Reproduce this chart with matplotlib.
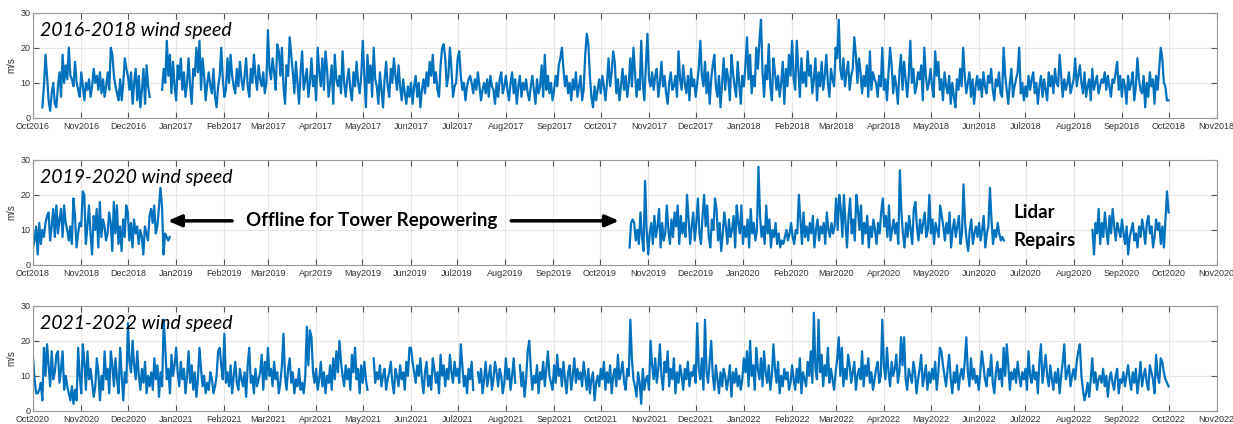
import numpy as np
import pandas as pd
import matplotlib
matplotlib.use("Agg")
import matplotlib.pyplot as plt
import matplotlib.dates as mdates

nan = np.nan

# ---- 2016-2018 daily mean wind speed (m/s) ----
p1_a_start = "2016-10-07"
p1_a = [3, 9, 18, 12, 5, 2, 7, 10, 4, 3, 9, 13, 6, 18, 10, 15, 11, 20, 12, 11, 9, 16, 10, 8, 6,
        13, 9, 5, 10, 8, 11, 6, 9, 14, 10, 12, 8, 13, 7, 11, 6, 9, 13, 8, 20, 18, 12, 9, 7, 5, 11, 5, 10, 17, 14,
        12, 8, 13, 4, 10, 14, 5, 12, 3, 8, 14, 4, 15, 9, 6]
p1_b_start = "2016-12-23"
p1_b = [8, 14, 10, 22, 12, 18, 7, 16, 9,
        5, 15, 11, 17, 8, 13, 6, 10, 17, 9, 4, 14, 12, 20, 13, 22, 8, 17, 12, 5, 10, 13, 9, 7, 14, 6, 3, 9, 12, 20, 11,
        6, 8, 17, 10, 18, 12, 9, 7, 14, 9, 16, 11, 8, 12, 17, 9, 6, 14, 10, 18, 12, 8, 15, 11, 9, 13, 7, 10,
        25, 14, 11, 17, 13, 8, 21, 19, 12, 20, 9, 4, 15, 12, 23, 18, 13, 7, 16, 10, 4, 13, 19, 8, 11, 14, 6, 10, 17, 9, 12,
        5, 20, 13, 9, 17, 8, 19, 14, 6, 10, 15, 4, 18, 11, 9, 12, 7, 19, 10, 6, 11, 14, 8, 5, 13, 9, 16, 10, 7, 12,
        22, 12, 3, 18, 10, 15, 6, 20, 11, 9, 4, 13, 8, 3, 11, 16, 9, 6, 14, 10, 17, 12, 8, 15, 9, 5, 11, 7, 4, 9, 6,
        10, 4, 9, 12, 6, 10, 3, 8, 11, 7, 13, 9, 16, 12, 18, 10, 13, 8, 6, 15, 20, 21, 17, 9, 12, 20, 14, 6, 9, 10,
        17, 19, 12, 8, 10, 5, 9, 11, 12, 10, 7, 11, 8, 13, 9, 5, 8, 10, 7, 11, 6, 12, 9, 8, 4, 10, 6, 11, 13, 7, 9,
        12, 8, 5, 10, 13, 7, 11, 4, 9, 12, 6, 10, 8, 11, 7, 5, 9, 12, 8, 4, 11, 7, 9, 15, 6, 18, 8, 12, 7, 10, 5,
        8, 12, 9, 15, 17, 20, 14, 9, 12, 7, 10, 5, 11, 8, 13, 6, 9, 12, 5, 8, 18, 24, 21, 12, 6, 3, 9, 5, 8, 11,
        7, 12, 9, 5, 10, 17, 9, 13, 19, 16, 7, 11, 5, 9, 14, 8, 12, 6, 10, 17, 9, 20, 13, 6, 11, 8, 22, 10, 5, 15, 24,
        11, 9, 13, 8, 12, 14, 6, 10, 16, 9, 12, 7, 4, 10, 13, 8, 9, 12, 6, 19, 11, 8, 15, 10, 7, 12, 5, 14, 9, 11,
        6, 10, 14, 22, 12, 9, 16, 7, 13, 4, 11, 15, 18, 9, 6, 12, 3, 10, 17, 8, 14, 11, 5, 18, 13, 9, 6, 16, 10, 4, 12,
        9, 15, 23, 11, 18, 7, 12, 9, 20, 14, 22, 28, 13, 6, 15, 11, 21, 9, 5, 17, 13, 8, 12, 6, 10, 16, 4, 14, 9, 18, 12,
        22, 11, 8, 22, 14, 6, 17, 10, 13, 9, 19, 12, 15, 7, 11, 17, 5, 13, 9, 16, 8, 12, 18, 10, 6, 14, 11, 9,
        20, 17, 28, 14, 11, 17, 9, 13, 16, 8, 12, 14, 23, 18, 10, 17, 13, 7, 12, 9, 15, 6, 19, 8, 13, 11, 10, 6, 12, 9, 20,
        8, 11, 5, 13, 20, 15, 7, 12, 9, 4, 13, 18, 8, 16, 11, 6, 12, 22, 10, 14, 7, 9, 13, 11, 15, 5, 20, 12, 8, 10,
        14, 9, 6, 19, 12, 16, 8, 11, 5, 13, 9, 7, 12, 4, 10, 6, 3, 11, 8, 14, 9, 20, 12, 7, 10, 13, 6, 11, 4, 9, 12,
        8, 11, 6, 13, 9, 7, 12, 10, 14, 8, 5, 11, 9, 13, 7, 6, 20, 12, 8, 4, 10, 14, 6, 9, 11, 13, 20, 7, 10, 5,
        9, 6, 12, 8, 11, 13, 7, 10, 4, 9, 12, 6, 11, 8, 5, 13, 9, 12, 7, 14, 10, 9, 18, 12, 6, 11, 8, 10, 13, 7, 9,
        11, 17, 9, 12, 15, 10, 7, 13, 6, 9, 11, 5, 14, 8, 10, 12, 7, 9, 11, 10, 13, 8, 12, 9, 6, 11, 10, 13, 16, 8, 12,
        6, 11, 9, 4, 12, 8, 10, 13, 5, 9, 17, 11, 8, 7, 12, 3, 10, 6, 13, 9, 11, 4, 12, 8, 14, 20, 17, 10, 9, 5, 5]

# ---- 2019-2020 ----
p2_a_start = "2018-10-01"
p2_a = [5, 7, 11, 3, 12, 6, 10, 8, 12, 14, 15, 7, 11, 16, 8, 17, 9, 13, 16, 8, 17, 12, 10, 7, 11, 6, 19, 14, 5, 9, 12,
        11, 21, 20, 6, 11, 17, 9, 3, 14, 10, 16, 5, 18, 8, 13, 11, 7, 9, 15, 12, 4, 18, 9, 17, 6, 11, 4, 13, 8, 17,
        15, 7, 12, 5, 13, 9, 11, 6, 10, 8, 3, 11, 9, 7, 14, 16, 12, 17, 9, 11, 16, 22, 17, 3, 9, 8, 7, 8]
p2_b_start = "2019-10-20"
p2_b = [5, 12, 13, 12, 7, 10, 6, 15, 8, 4, 24, 10,
        3, 9, 12, 6, 14, 8, 11, 16, 5, 12, 7, 9, 17, 10, 6, 13, 8, 15, 11, 17, 6, 14, 9, 12, 8, 20, 13, 6, 11, 15,
        7, 12, 19, 9, 6, 14, 20, 11, 17, 8, 5, 13, 10, 19, 16, 7, 12, 4, 9, 15, 11, 6, 13, 8, 10, 14, 5, 17, 12, 9, 17,
        6, 11, 8, 13, 5, 16, 9, 12, 7, 10, 28, 14, 8, 11, 6, 17, 9, 13, 5, 10, 8, 12, 6, 9, 5, 7, 6, 8, 10, 7, 9,
        12, 8, 6, 10, 9, 20, 13, 6, 15, 8, 11, 7, 12, 9, 14, 5, 10, 13, 7, 11, 9, 12, 6, 15, 10, 8, 12, 9, 11,
        19, 10, 20, 16, 8, 20, 12, 5, 14, 19, 9, 13, 7, 20, 16, 10, 17, 6, 12, 9, 14, 5, 11, 8, 13, 10, 6, 12, 9, 15, 19,
        11, 14, 8, 17, 7, 10, 13, 9, 12, 6, 27, 15, 9, 5, 12, 8, 14, 10, 6, 16, 18, 11, 7, 13, 9, 12, 15, 8, 10, 20,
        9, 13, 6, 12, 10, 8, 17, 14, 11, 7, 12, 9, 15, 5, 10, 13, 8, 11, 14, 6, 9, 23, 12, 7, 4, 10, 13, 6, 9, 11, 8,
        12, 7, 10, 14, 5, 9, 11, 22, 13, 6, 10, 8, 12, 9, 7, 8, 7]
p2_c_start = "2020-08-13"
p2_c = [10, 3, 12, 9, 16, 6, 12, 8, 15, 10, 6, 14, 9, 16, 11, 7, 12, 10, 8, 13, 9, 6, 11, 3, 8, 10, 12, 7, 9, 5,
        11, 8, 13, 10, 6, 12, 14, 9, 11, 5, 8, 13, 10, 12, 6, 11, 5, 13, 21, 15]

# ---- 2021-2022 ----
p3_start = "2020-10-01"
p3 = [15, 9, 5, 5, 6, 8, 3, 18, 10, 19, 13, 7, 17, 9, 11, 16, 17, 8, 12, 17, 6, 10, 7, 5, 3, 7, 2, 6, 3, 18, 10,
      5, 19, 14, 6, 17, 9, 12, 8, 4, 7, 15, 11, 3, 10, 6, 17, 9, 12, 5, 17, 13, 7, 15, 9, 5, 18, 10, 3, 11, 8,
      25, 14, 11, 20, 13, 9, 17, 10, 6, 12, 8, 14, 5, 10, 7, 11, 6, 15, 9, 13, 4, 11, 7, 26, 18, 9, 12, 5, 16, 10, 13,
      18, 11, 7, 14, 9, 12, 5, 10, 17, 8, 13, 6, 11, 4, 9, 18, 12, 7, 10, 5, 8, 6, 11, 9, 5, 7, 10, 17, 18, 13, 9,
      22, 8, 11, 7, 13, 5, 10, 14, 8, 6, 12, 9, 7, 11, 4, 13, 18, 8, 10, 5, 12, 7, 9, 11, 16, 6, 14, 9,
      18, 10, 12, 7, 14, 9, 11, 5, 8, 13, 22, 10, 6, 12, 15, 8, 11, 5, 9, 7, 12, 6, 8, 5, 10, 24, 13, 23, 21, 11, 8,
      12, 6, 9, 14, 7, 11, 5, 10, 8, 13, 6, 15, 9, 17, 11, 20, 14, 10, 7, 13, 9, 12, 6, 16, 11, 18, 9, 12, 5, 13,
      8, 14, 9, 6, nan, nan, nan, 15, 8, 11, 9, 13, 7, 10, 12, 6, 9, 11, 14, 8, 5, 12, 10, 7, 13, 9, 11, 6, 14, 10, 18,
      18, 14, 11, 8, 13, 10, 15, 9, 5, 11, 14, 7, 10, 6, 15, 12, 8, 11, 5, 16, 10, 13, 7, 12, 9, 16, 11, 8, 14, 10,
      12, 8, 19, 13, 7, 10, 5, 12, 9, 14, 6, nan, nan, 11, 8, 12, 5, 9, 14, 7, 10, 13, 6, 9, 14, 11, 7, 12, 10, 5, 8,
      15, 9, 12, 6, 10, 15, 8, nan, nan, 13, 7, 11, 4, 9, 17, 20, 12, 6, 10, 8, 13, 5, 11, 9, 14, 7, 12, 17, 10, 8, 6,
      13, 8, 16, 10, 12, 7, 14, 9, 5, 11, 13, 6, 10, 15, 8, 12, 9, 11, 7, 14, 10, 6, 12, 5, 9, 11, 3, 8, 10, 7,
      12, 9, 14, 6, 11, 8, 13, 5, 10, 12, 7, 16, 9, 11, 14, 8, 6, 12, 10, 26, 15, 9, 7, 4, 11, 8, 2, 12, 6, 9, 10,
      6, 20, 13, 9, 15, 8, 12, 19, 10, 6, 14, 11, 17, 7, 12, 9, 15, 5, 11, 8, 13, 10, 6, 12, 9, 14, 7, 11, 10, 13,
      8, 25, 12, 9, 15, 6, 26, 11, 8, 14, 20, 10, 6, 13, 9, 5, 11, 7, 12, 10, 6, 9, 13, 4, 11, 8, 12, 7, 10, 6, 9,
      15, 11, 17, 7, 20, 10, 13, 6, 18, 12, 9, 15, 7, 17, 11, 8, 13, 6, 10, 19, 12, 8, 14, 5, 10, 7, 12, 9, 11, 6, 8,
      13, 9, 6, 12, 8, 15, 5, 11, 9, 7, 14, 10, 17, 8, 28, 12, 9, 26, 11, 16, 7, 13, 10, 18, 8, 12, 9, 6,
      11, 15, 21, 10, 18, 7, 12, 9, 16, 13, 8, 11, 14, 6, 10, 12, 9, 17, 7, 13, 10, 15, 8, 11, 6, 9, 12, 14, 8, 10, 26,
      13, 9, 18, 11, 7, 14, 10, 12, 16, 8, 11, 21, 13, 21, 9, 6, 12, 10, 8, 14, 11, 5, 9, 12, 16, 7, 10, 13, 6, 11,
      8, 12, 9, 14, 6, 11, 18, 17, 13, 10, 7, 12, 16, 9, 5, 11, 8, 13, 6, 10, 12, 9, 14, 21, 11, 7, 15, 9, 12, 8, 10,
      6, 11, 17, 13, 9, 7, 12, 10, 16, 8, 5, 11, 14, 9, 12, 7, 18, 10, 19, 13, 6, 11, 9, 12, 8, 14, 10, 7, 11, 9,
      12, 6, 17, 10, 8, 13, 9, 11, 5, 14, 19, 8, 12, 16, 10, 7, 13, 9, 6, 11, 8, 12, 5, 10, 14, 19, 9, 11, 13, 7, 10,
      12, 9, 14, 17, 19, 10, 6, 3, 5, 8, 4, 9, 15, 8, 11, 6, 9, 10, 8, 12, 7, 10, 4, 9, 11, 8, 6, 10, 12, 5, 9,
      8, 11, 7, 10, 13, 9, 6, 11, 8, 12, 5, 9, 14, 7, 10, 12, 8, 6, 13, 11, 9, 5, 16, 10, 8, 15, 14, 11, 9, 8, 7]

titles = ["2016-2018 wind speed", "2019-2020 wind speed", "2021-2022 wind speed"]
xlims = [("2016-10-01", "2018-11-01"), ("2018-10-01", "2020-11-01"), ("2020-10-01", "2022-11-01")]
panels = [[(p1_a_start, p1_a), (p1_b_start, p1_b)],
          [(p2_a_start, p2_a), (p2_b_start, p2_b), (p2_c_start, p2_c)],
          [(p3_start, p3)]]

blue = "#0072BD"
frame = "#9a9a9a"
tick_font = "Liberation Sans"
note_font = ["Lato", "DejaVu Sans"]

fig = plt.figure(figsize=(12.33, 4.24), dpi=100)
bottoms = [0.722, 0.375, 0.031]
axes = []
for k in range(3):
    ax = fig.add_axes([0.0268, bottoms[k], 0.960, 0.248])
    for start, vals in panels[k]:
        dates = pd.date_range(start, periods=len(vals), freq="D")
        ax.plot(dates, vals, color=blue, lw=1.6)
    ax.set_xlim(pd.Timestamp(xlims[k][0]), pd.Timestamp(xlims[k][1]))
    ax.set_ylim(0, 30)
    ax.set_yticks([0, 10, 20, 30])
    ax.xaxis.set_major_locator(mdates.MonthLocator())
    ax.xaxis.set_major_formatter(mdates.DateFormatter("%b%Y"))
    ax.grid(True, color="#e6e6e6", lw=0.8)
    ax.set_axisbelow(True)
    for s in ax.spines.values():
        s.set_color(frame)
        s.set_linewidth(0.8)
    ax.tick_params(direction="in", top=True, right=True, length=4, width=0.8,
                   color="#555555", labelsize=6.5, labelcolor="#333333", pad=2)
    ax.tick_params(axis="x", pad=3)
    for lab in ax.get_xticklabels() + ax.get_yticklabels():
        lab.set_family(tick_font)
    ax.set_ylabel("m/s", fontsize=7, family=tick_font, color="#333333", labelpad=3)
    ax.text(0.006, 0.83, titles[k], transform=ax.transAxes, fontsize=14,
            style="italic", family=note_font, va="center", ha="left")
    axes.append(ax)

ax2 = axes[1]
ax2.text(pd.Timestamp("2019-05-07"), 12.6, "Offline for Tower Repowering", fontsize=13.5,
         weight="bold", family=note_font, ha="center", va="center")
arrow = dict(arrowstyle="-|>,head_length=0.8,head_width=0.35", color="black", lw=2.5)
ax2.annotate("", xy=(pd.Timestamp("2018-12-25"), 12.6), xytext=(pd.Timestamp("2019-02-08"), 12.6),
             arrowprops=arrow)
ax2.annotate("", xy=(pd.Timestamp("2019-10-15"), 12.6), xytext=(pd.Timestamp("2019-08-03"), 12.6),
             arrowprops=arrow)
ax2.text(pd.Timestamp("2020-06-23"), 14.9, "Lidar", fontsize=13.5, weight="bold",
         family=note_font, ha="left", va="center")
ax2.text(pd.Timestamp("2020-06-23"), 7.1, "Repairs", fontsize=13.5, weight="bold",
         family=note_font, ha="left", va="center")

fig.savefig("out.png", dpi=100)
